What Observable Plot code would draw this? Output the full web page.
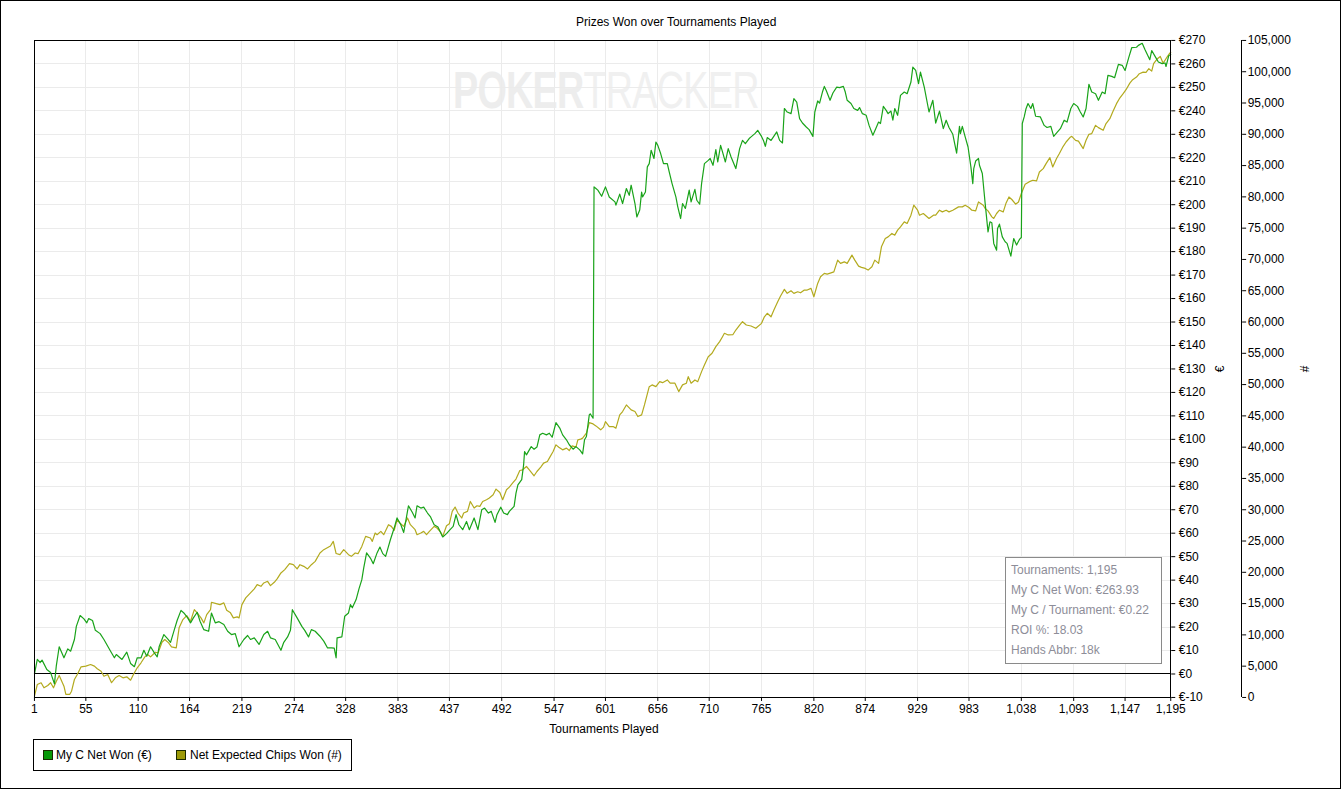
<!DOCTYPE html>
<html>
<head>
<meta charset="utf-8">
<script src="https://cdn.jsdelivr.net/npm/d3@7"></script>
<script src="https://cdn.jsdelivr.net/npm/@observablehq/plot@0.6"></script>
<style>
  html, body { margin: 0; padding: 0; background: #fff; }
  #wrap { position: relative; width: 1341px; height: 789px; box-sizing: border-box; border: 1px solid #000; overflow: hidden; font-family: "Liberation Sans", Arial, sans-serif; font-size: 12px; color: #000; }
  #wrap svg.plot { position: absolute; left: -1px; top: -1px; }
  .abs { position: absolute; white-space: nowrap; }
  #wm { left: 452px; top: 62px; font-family: "Liberation Sans", Arial, sans-serif; font-size: 51px; line-height: 56px; color: #f0f0f0; letter-spacing: -1px; transform: scaleX(0.74); transform-origin: 0 0; }
  #wm b { color: #ededed; }
  #stats { left: 1004px; top: 556px; width: 157px; height: 107px; border: 1px solid #8a8a8a; background: #fff; color: #8d8d98; line-height: 20px; padding: 2px 0 0 5px; box-sizing: border-box; }
  #legend { left: 32px; top: 738px; width: 319px; height: 32px; border: 1px solid #000; box-sizing: border-box; background: #fff; }
  .sw { position: absolute; width: 8px; height: 8px; top: 10px; }
  .lt { position: absolute; top: 8px; }
</style>
</head>
<body>
<div id="wrap"></div>
<script>
// ---- data ----
const tournamentTicks = [1, 55, 110, 164, 219, 274, 328, 383, 437, 492, 547, 601, 656, 710, 765, 820, 874, 929, 983, 1038, 1093, 1147, 1195];
const euroTicks = [-10, 0, 10, 20, 30, 40, 50, 60, 70, 80, 90, 100, 110, 120, 130, 140, 150, 160, 170, 180, 190, 200, 210, 220, 230, 240, 250, 260, 270];
const chipTicks = [0, 5000, 10000, 15000, 20000, 25000, 30000, 35000, 40000, 45000, 50000, 55000, 60000, 65000, 70000, 75000, 80000, 85000, 90000, 95000, 100000, 105000];
const seriesNames = ["My C Net Won (€)", "Net Expected Chips Won (#)"];
const seriesColors = ["#19a319", "#b3aa1e"];

// [tournament, € net won]
const netWon = [[1,0],[4,6.2],[7,4.9],[9,5.9],[14,1.9],[18,0.6],[22,-4.2],[24,3.6],[27,11.6],[32,6.9],[36,10.7],[39,9.7],[43,14.7],[45,20.3],[49,24.9],[53,23.5],[56,21.8],[58,23.6],[62,22.8],[65,18.6],[70,17.2],[74,14.7],[81,9.7],[85,6.9],[87,8.3],[93,6.2],[98,9.3],[102,4.5],[106,3.1],[109,6.9],[113,6.9],[116,10.1],[119,7.6],[123,11.6],[127,9.0],[130,7.3],[132,11.6],[137,16.8],[141,15.0],[144,13.5],[148,18.9],[151,22.9],[155,27.1],[158,26.0],[162,23.9],[165,21.8],[168,23.9],[172,26.3],[175,22.5],[179,18.9],[184,18.2],[187,26.0],[191,21.8],[195,22.3],[200,21.1],[204,18.2],[208,16.8],[212,17.2],[216,11.6],[221,14.7],[225,16.4],[228,14.7],[232,15.4],[237,12.6],[242,16.8],[246,18.2],[249,15.4],[254,14.7],[260,10.1],[263,13.5],[267,15.8],[270,18.6],[272,27.4],[277,23.9],[282,20.3],[285,18.6],[289,15.8],[292,18.9],[296,18.2],[301,16.1],[305,14.0],[309,11.1],[313,11.1],[316,11.0],[318,6.9],[319,15.4],[324,15.8],[327,24.6],[331,26.0],[333,29.6],[335,28.2],[339,31.7],[342,36.3],[345,40.2],[347,45.2],[350,51.6],[354,49.4],[357,47.0],[361,51.6],[364,54.1],[367,51.3],[370,50.1],[373,54.4],[375,57.2],[379,62.2],[382,66.5],[386,63.6],[389,60.3],[392,67.1],[394,71.7],[398,68.9],[401,66.5],[403,71.7],[407,70.7],[410,71.1],[414,68.6],[417,67.1],[421,63.6],[425,62.6],[430,58.4],[434,59.8],[437,61.2],[441,62.9],[444,67.9],[447,63.6],[451,61.5],[455,65.0],[458,61.5],[463,66.5],[467,61.5],[471,70.0],[474,70.7],[478,68.6],[481,69.3],[485,64.6],[487,67.9],[491,71.1],[494,68.6],[498,67.9],[500,69.3],[505,71.4],[507,77.1],[509,80.6],[513,82.8],[515,89.1],[516,94.8],[518,93.4],[521,95.5],[523,96.9],[526,95.8],[529,96.7],[532,101.9],[535,102.6],[539,101.9],[542,102.6],[545,100.9],[549,107.1],[553,104.8],[556,101.9],[560,99.8],[563,97.7],[567,95.8],[570,96.9],[574,95.5],[577,93.8],[579,99.8],[581,101.2],[584,110.4],[585,110.9],[588,109.0],[589,207.6],[591,206.9],[593,206.2],[597,203.6],[601,207.6],[605,203.3],[611,201.2],[612,199.8],[616,204.5],[619,200.5],[623,206.9],[626,204.0],[628,208.3],[632,200.5],[634,194.8],[637,197.7],[639,205.4],[640,203.3],[643,205.4],[645,216.1],[647,217.5],[649,223.2],[652,219.7],[654,226.7],[656,225.3],[659,221.8],[662,217.5],[666,217.5],[668,214.0],[671,209.0],[675,203.3],[677,199.1],[680,194.1],[682,200.5],[685,198.4],[689,206.2],[691,201.2],[695,206.5],[697,201.9],[700,200.2],[702,209.0],[705,217.5],[709,218.9],[711,219.7],[714,216.8],[717,223.5],[719,218.2],[722,225.3],[724,222.5],[727,218.2],[730,223.9],[733,220.3],[738,215.4],[742,223.9],[745,227.4],[748,226.0],[752,228.2],[754,228.9],[758,230.3],[761,231.7],[765,229.1],[767,227.4],[769,224.9],[771,228.6],[775,227.4],[777,228.6],[781,231.0],[784,227.4],[787,226.3],[789,241.0],[792,239.5],[796,238.8],[799,245.2],[802,243.7],[805,236.7],[808,234.8],[812,233.1],[815,232.0],[819,229.1],[821,239.5],[824,244.2],[826,243.3],[829,248.0],[831,250.4],[833,248.7],[837,244.5],[840,247.6],[844,250.1],[847,249.9],[851,250.4],[853,248.0],[855,244.5],[859,243.1],[862,241.0],[866,240.2],[868,241.4],[871,238.8],[875,238.1],[878,233.8],[882,229.6],[885,232.4],[888,235.2],[890,234.6],[893,241.9],[896,240.2],[898,238.8],[901,239.9],[903,236.0],[905,241.0],[908,238.1],[911,246.6],[915,248.0],[918,247.3],[922,252.3],[924,258.6],[927,257.2],[930,251.6],[932,256.5],[936,250.1],[941,239.5],[945,244.5],[948,234.8],[952,239.9],[956,232.4],[959,236.0],[962,232.9],[966,230.0],[970,222.0],[973,233.4],[974,230.3],[976,233.4],[979,228.9],[982,224.6],[985,216.1],[987,209.0],[988,215.4],[990,218.6],[993,219.7],[994,216.8],[997,213.3],[1000,200.5],[1003,188.4],[1005,192.7],[1007,192.3],[1009,183.5],[1012,180.6],[1013,189.9],[1015,191.7],[1018,186.3],[1021,184.2],[1023,183.5],[1027,178.1],[1030,185.6],[1033,182.8],[1036,185.2],[1038,186.0],[1039,234.6],[1041,237.4],[1043,241.0],[1045,243.1],[1048,241.0],[1050,243.1],[1053,237.7],[1058,237.4],[1062,233.8],[1065,232.9],[1069,233.4],[1072,229.1],[1076,231.0],[1079,232.4],[1083,236.0],[1086,235.2],[1090,241.0],[1093,243.1],[1097,241.9],[1100,239.5],[1103,237.4],[1106,241.0],[1109,251.3],[1112,248.0],[1116,247.3],[1119,244.5],[1123,248.0],[1126,247.3],[1129,255.1],[1133,254.7],[1136,254.1],[1140,259.8],[1144,259.4],[1147,257.2],[1151,262.9],[1154,266.9],[1159,267.1],[1161,267.9],[1165,268.8],[1168,266.0],[1173,261.8],[1175,265.7],[1179,262.9],[1182,260.8],[1186,260.1],[1189,260.4],[1190,258.9],[1193,263.6],[1195,263.93]];

// [tournament, net expected chips won]
const expectedChips = [[1,200],[4,2070],[8,2350],[11,1550],[15,1920],[18,2350],[21,1550],[24,2600],[27,3510],[32,1800],[34,480],[38,480],[40,1000],[43,2870],[46,3670],[50,4900],[55,5000],[60,5270],[64,5000],[67,4580],[71,4200],[74,3400],[78,3670],[82,2350],[86,3140],[90,3510],[94,3140],[98,3300],[102,2760],[105,3670],[109,4740],[113,5540],[117,6490],[120,6860],[123,6490],[128,7230],[131,7130],[135,8820],[138,9260],[142,8730],[145,8090],[150,7930],[153,11120],[157,12450],[161,13090],[165,12180],[169,14040],[172,13520],[176,12720],[179,11920],[182,13240],[186,14040],[187,15210],[192,15000],[196,14840],[200,15110],[203,13930],[207,13520],[210,12720],[214,12880],[216,12720],[219,14840],[223,15910],[228,16710],[232,17350],[235,18030],[239,17760],[242,18300],[246,18560],[249,17870],[253,18400],[256,18940],[260,19900],[264,20430],[269,21380],[273,21220],[277,20540],[280,21220],[284,20950],[288,20540],[292,21220],[296,21750],[301,23090],[305,23620],[312,24200],[315,24940],[318,23000],[322,22820],[326,23620],[331,22820],[334,22550],[338,23090],[341,22980],[345,24140],[349,25740],[354,25480],[356,24940],[359,26280],[361,26010],[365,26540],[368,26010],[373,27610],[376,27340],[379,26700],[382,28400],[385,27880],[389,27340],[393,28680],[396,27610],[401,26810],[403,26010],[407,26280],[410,26540],[413,26010],[416,26540],[421,27340],[424,27080],[428,26380],[430,25740],[434,27450],[437,27770],[440,29730],[443,30430],[446,29470],[450,28680],[452,29470],[456,29730],[459,31320],[463,30270],[466,30640],[469,30530],[472,31320],[476,31600],[479,31870],[483,32390],[486,33300],[490,32760],[493,31600],[497,33190],[500,33620],[504,34360],[507,34900],[511,36270],[514,36380],[518,36910],[521,36380],[526,35430],[529,36110],[533,36810],[536,37450],[540,37710],[542,38250],[546,39300],[549,40370],[552,40000],[556,39570],[560,39840],[563,39460],[566,40210],[570,40000],[572,41170],[575,41280],[577,41440],[581,42240],[584,43930],[588,43720],[591,43400],[596,42770],[599,43200],[601,44090],[605,43290],[609,43290],[612,43040],[616,45160],[619,45690],[623,46750],[628,45960],[632,45690],[635,44890],[639,45160],[642,46750],[647,49670],[650,49950],[654,49670],[658,50470],[661,50310],[666,50740],[669,50220],[674,50220],[678,48880],[682,49950],[686,50220],[688,51270],[691,50220],[695,50740],[698,50470],[702,52070],[705,53140],[709,54460],[713,55000],[717,56060],[721,56860],[724,57650],[726,58200],[730,57930],[735,58000],[738,58720],[742,59520],[745,60050],[749,59520],[754,59360],[759,59000],[765,59790],[768,60840],[771,61390],[775,60840],[778,61910],[782,63240],[785,64150],[789,65220],[792,64580],[796,64990],[799,64580],[803,64830],[806,64670],[810,65110],[813,65110],[817,65380],[820,64040],[824,66170],[827,67230],[831,67770],[834,67660],[838,67860],[841,68020],[845,69890],[848,69370],[852,69620],[855,69370],[860,70690],[863,69890],[867,68930],[870,68730],[874,68570],[877,68300],[881,68820],[884,69890],[888,69370],[891,72010],[895,73350],[898,73610],[902,74150],[905,73880],[908,74680],[911,75210],[915,76000],[918,75750],[922,77070],[925,78670],[929,77870],[931,77070],[935,77340],[941,76550],[946,77100],[948,77070],[952,77870],[955,77600],[959,77870],[962,77600],[966,77870],[972,78400],[976,78400],[979,78670],[983,78300],[986,77870],[990,77760],[993,79190],[998,78670],[1000,78140],[1003,77760],[1007,76800],[1009,76550],[1012,77340],[1015,77870],[1019,77600],[1022,79030],[1025,79990],[1028,79580],[1032,78830],[1035,79190],[1038,80530],[1042,82020],[1046,82390],[1050,82660],[1054,82550],[1057,83980],[1061,84520],[1064,85320],[1068,86280],[1071,84780],[1075,86120],[1078,86920],[1082,88080],[1085,88770],[1089,89470],[1091,89680],[1095,89040],[1098,88900],[1103,87720],[1106,89040],[1109,90000],[1112,90110],[1116,91430],[1119,91070],[1124,90640],[1127,91710],[1131,92500],[1134,93560],[1138,94900],[1141,95690],[1145,96490],[1148,97130],[1152,98180],[1155,98730],[1159,99140],[1162,99680],[1166,99940],[1169,99900],[1172,100480],[1175,100100],[1177,101280],[1181,102080],[1184,102440],[1187,101370],[1190,102080],[1194,102970],[1195,103100]];

const statLines = ["Tournaments: 1,195", "My C Net Won: €263.93", "My C / Tournament: €0.22", "ROI %: 18.03", "Hands Abbr: 18k"];

// ---- scales: map chips axis onto € axis ----
const eMin = euroTicks[0], eMax = euroTicks[euroTicks.length - 1];
const cMin = chipTicks[0], cMax = chipTicks[chipTicks.length - 1];
const chipsToEuro = c => eMin + (c - cMin) * (eMax - eMin) / (cMax - cMin);
const euroToChips = e => cMin + (e - eMin) * (cMax - cMin) / (eMax - eMin);
const fmt = d3.format(",");

const wonRows = netWon.map(([t, v]) => ({t, v}));
const chipRows = expectedChips.map(([t, c]) => ({t, v: chipsToEuro(c)}));

const chart = Plot.plot({
  width: 1341,
  height: 741,
  marginLeft: 34,
  marginTop: 40,
  marginRight: 169,
  marginBottom: 43,
  style: {fontFamily: '"Liberation Sans", Arial, sans-serif', fontSize: "12px", color: "#000", background: "transparent", overflow: "visible"},
  x: {domain: [1, 1195]},
  y: {domain: [eMin, eMax]},
  marks: [
    Plot.gridX(tournamentTicks, {stroke: "#ebebeb", strokeOpacity: 1, strokeWidth: 1, shapeRendering: "crispEdges"}),
    Plot.gridY(euroTicks, {stroke: "#ebebeb", strokeOpacity: 1, strokeWidth: 1, shapeRendering: "crispEdges"}),
    Plot.ruleY([0], {stroke: "#000", strokeWidth: 1, dy: -0.5, shapeRendering: "crispEdges"}),
    Plot.line(chipRows, {x: "t", y: "v", stroke: seriesColors[1], strokeWidth: 1.2}),
    Plot.line(wonRows, {x: "t", y: "v", stroke: seriesColors[0], strokeWidth: 1.2}),
    Plot.frame({stroke: "#000", strokeWidth: 1, shapeRendering: "crispEdges"}),
    Plot.axisX(tournamentTicks, {tickFormat: fmt, tickSize: 4, tickPadding: 3, label: null}),
    Plot.axisY(euroTicks, {anchor: "right", tickSize: 4, tickPadding: 4, tickFormat: d => "€" + d, label: null}),
    Plot.ruleX([1195], {y1: eMin, y2: eMax, dx: 71, stroke: "#000", shapeRendering: "crispEdges"}),
    Plot.axisY(chipTicks.map(chipsToEuro), {anchor: "right", dx: 71, tickSize: 4, tickPadding: 2, tickFormat: d => fmt(Math.round(euroToChips(d))), label: null})
  ]
});
chart.classList.add("plot");

const wrap = document.getElementById("wrap");

// watermark
const wm = document.createElement("div");
wm.className = "abs"; wm.id = "wm";
wm.innerHTML = "<b>POKER</b>TRACKER";
wrap.appendChild(wm);

wrap.appendChild(chart);

// title
const title = document.createElement("div");
title.className = "abs";
title.style.left = "575px"; title.style.top = "14px";
title.textContent = "Prizes Won over Tournaments Played";
wrap.appendChild(title);

// x axis label
const xl = document.createElement("div");
xl.className = "abs";
xl.style.left = "0px"; xl.style.width = "1206px"; xl.style.textAlign = "center"; xl.style.top = "721px";
xl.textContent = "Tournaments Played";
wrap.appendChild(xl);

// rotated y axis titles
[["€", 1219], ["#", 1304]].forEach(([s, x]) => {
  const d = document.createElement("div");
  d.className = "abs";
  d.style.left = (x - 5) + "px"; d.style.top = "361px"; d.style.width = "10px"; d.style.textAlign = "center";
  d.style.transform = "rotate(-90deg)";
  d.textContent = s;
  wrap.appendChild(d);
});

// stats box
const st = document.createElement("div");
st.className = "abs"; st.id = "stats";
st.innerHTML = statLines.map(s => `<div>${s}</div>`).join("");
wrap.appendChild(st);

// legend
const lg = document.createElement("div");
lg.className = "abs"; lg.id = "legend";
const swX = [9, 142], txX = [22, 156];
lg.innerHTML = seriesNames.map((n, i) =>
  `<div class="sw" style="left:${swX[i]}px;background:${i === 0 ? "#079907" : "#9c9a08"};border:1px solid #1a2a00"></div><div class="lt" style="left:${txX[i]}px">${n}</div>`
).join("");
wrap.appendChild(lg);
</script>
</body>
</html>
